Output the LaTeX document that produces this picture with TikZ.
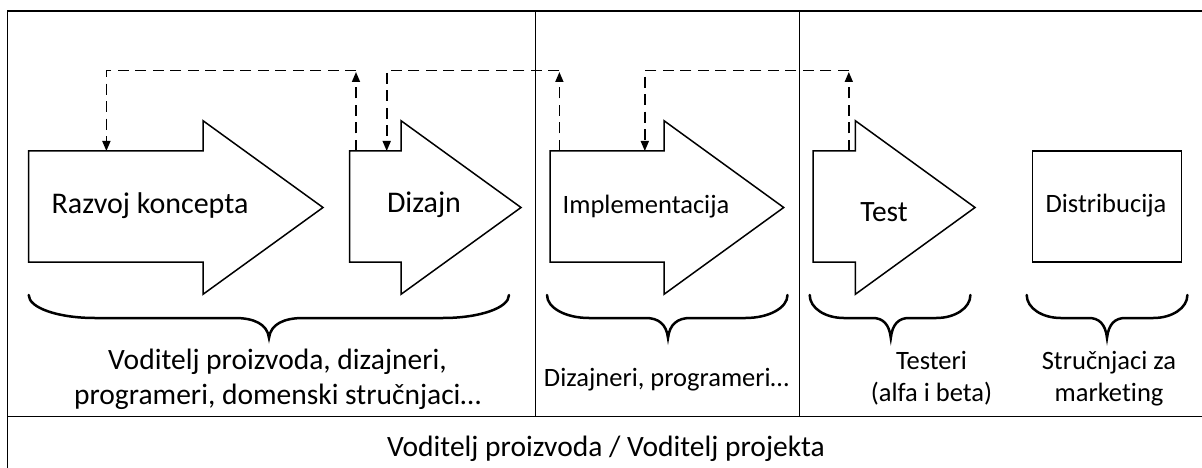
\documentclass[tikz,border=0pt]{standalone}
\usepackage{fontspec}
\setmainfont{Carlito}[Ligatures={NoCommon}]
\usetikzlibrary{arrows.meta}

% font sizes (1pt = one unit of the drawing grid)
\newcommand{\szBig}{\fontsize{30}{36}\selectfont}
\newcommand{\szLbl}{\fontsize{29.5}{36}\selectfont}
\newcommand{\szSmall}{\fontsize{26.5}{32}\selectfont}

% curly brace opening downwards: #1 left end, #2 tip, #3 right end
\newcommand{\wordbrace}[3]{%
  \pgfmathsetmacro{\wbH}{(#3-#1)/2}%
  \pgfmathsetmacro{\wbE}{18+0.2*\wbH}%
  \pgfmathsetmacro{\wbT}{10+0.1*\wbH}%
  \draw[curly] (#1,295) .. controls (#1,308) and ({#1+0.45*\wbE},318) .. ({#1+\wbE},318)
    -- ({#2-\wbT},318) .. controls ({#2-0.45*\wbT},318) and ({#2-1.5},324) .. (#2,338)
    .. controls ({#2+1.5},324) and ({#2+0.45*\wbT},318) .. ({#2+\wbT},318)
    -- ({#3-\wbE},318) .. controls ({#3-0.45*\wbE},318) and (#3,308) .. (#3,295);
}

\tikzset{
  panelline/.style={line width=1.5pt},
  blockarrow/.style={draw, line width=1.5pt, line join=miter},
  feedback/.style={line width=1.6pt, dash pattern=on 11pt off 6.5pt},
  fbtip/.style={-{Triangle[length=10pt,width=8pt]}},
  curly/.style={line width=2.5pt, line cap=round},
  lbl/.style={inner sep=0pt, anchor=base},
}

\begin{document}
\begin{tikzpicture}[x=1pt, y=-1pt]
\useasboundingbox (0,0) rectangle (1202,468);

% panel frame and column dividers
\coordinate (fTL) at (7.7,11);
\coordinate (fTR) at (1202,11);
\coordinate (fBL) at (7.7,468);
\coordinate (rowL) at (7.7,416.7);
\coordinate (rowR) at (1202,416.7);
\draw[panelline] (fBL) -- (fTL) -- (fTR);
\draw[panelline] (rowL) -- (rowR);
\coordinate (d1t) at (535.7,11);
\coordinate (d1b) at (535.7,416.7);
\coordinate (d2t) at (799.5,11);
\coordinate (d2b) at (799.5,416.7);
\draw[panelline] (d1t) -- (d1b);
\draw[panelline] (d2t) -- (d2b);

% phase arrows
\draw[blockarrow] (28.7,151) -- (203,151) -- (203,120.7) -- (323,207.5)
  -- (203,294.3) -- (203,262) -- (28.7,262) -- cycle;
\draw[blockarrow] (349.6,151) -- (401,151) -- (401,120.7) -- (521,207.5)
  -- (401,294.3) -- (401,262) -- (349.6,262) -- cycle;
\draw[blockarrow] (550,151) -- (664,151) -- (664,120.7) -- (783.7,207.5)
  -- (664,294.3) -- (664,262) -- (550,262) -- cycle;
\draw[blockarrow] (813,151) -- (855.3,151) -- (855.3,120.7) -- (975,207.5)
  -- (855.3,294.3) -- (855.3,262) -- (813,262) -- cycle;
\draw[blockarrow] (1032.5,151) rectangle (1181.7,262);

\node[lbl, font=\szBig] (koncept) at (150,213) {Razvoj koncepta};
\node[lbl, font=\szBig] (dizajn) at (424,212) {Dizajn};
\node[lbl, font=\szSmall] (impl) at (646,213) {Implementacija};
\node[lbl, font=\szLbl] (test) at (884,221) {Test};
\node[lbl, font=\szSmall] (distr) at (1106,212) {Distribucija};

% feedback loops between phases
\coordinate (k1) at (106.4,151);
\coordinate (k1t) at (106.4,70.7);
\coordinate (z1) at (356,151);
\coordinate (z1t) at (356,70.7);
\coordinate (z1h) at (356,72);
\draw[feedback, fbtip] (z1) -- (z1h);
\draw[feedback, fbtip] (z1t) -- (k1t) -- (k1);

\coordinate (k2) at (386.7,151);
\coordinate (k2t) at (386.7,70.7);
\coordinate (z2) at (559.4,151);
\coordinate (z2t) at (559.4,70.7);
\coordinate (z2h) at (559.4,72);
\draw[feedback, fbtip] (z2) -- (z2h);
\draw[feedback, fbtip] (z2t) -- (k2t) -- (k2);

\coordinate (k3) at (644.8,151);
\coordinate (k3t) at (644.8,70.7);
\coordinate (z3) at (848.8,151);
\coordinate (z3t) at (848.8,70.7);
\coordinate (z3h) at (848.8,72);
\draw[feedback, fbtip] (z3) -- (z3h);
\draw[feedback, fbtip] (z3t) -- (k3t) -- (k3);

% braces grouping the phases
\wordbrace{28.7}{269}{509}
\wordbrace{547}{668}{787.5}
\wordbrace{809.7}{890.8}{970.4}
\wordbrace{1026.7}{1107}{1187.4}

% people involved in each phase
\node[lbl, font=\szLbl] (team1a) at (277.5,369) {Voditelj proizvoda, dizajneri,};
\node[lbl, font=\szLbl] (team1b) at (277.5,404) {programeri, domenski stručnjaci…};
\node[lbl, font=\szSmall] (team2) at (666.5,386) {Dizajneri, programeri…};
\node[lbl, font=\szSmall] (team3a) at (931.5,369) {Testeri};
\node[lbl, font=\szSmall] (team3b) at (931.5,401) {(alfa i beta)};
\node[lbl, font=\szSmall] (team4a) at (1109,369) {Stručnjaci za};
\node[lbl, font=\szSmall] (team4b) at (1109,401) {marketing};

\node[lbl, font=\szLbl] (lead) at (606,456) {Voditelj proizvoda / Voditelj projekta};
\end{tikzpicture}
\end{document}
